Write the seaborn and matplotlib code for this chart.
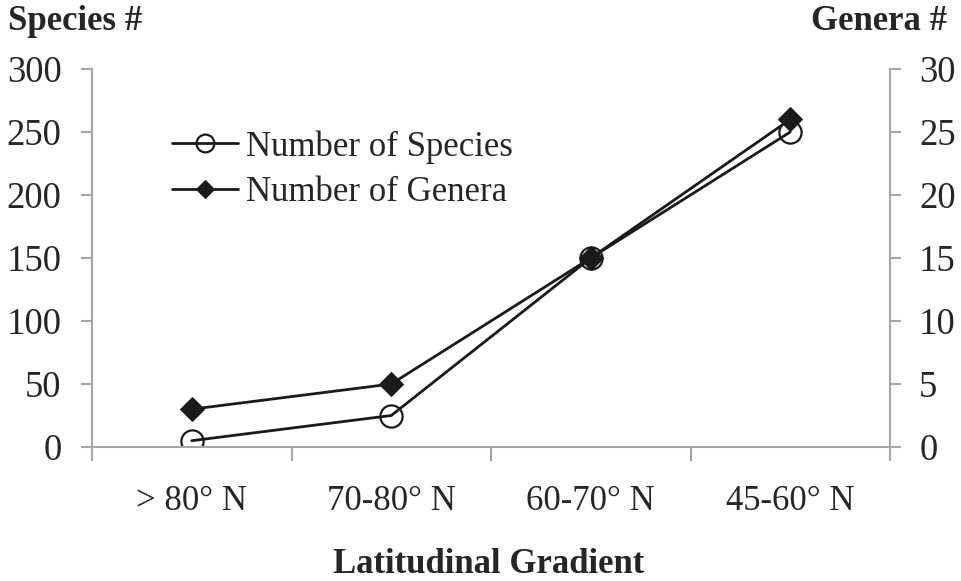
import matplotlib
matplotlib.use("Agg")
import matplotlib.pyplot as plt
import numpy as np
import pandas as pd
import seaborn as sns

# data
categories = ["> 80° N", "70-80° N", "60-70° N", "45-60° N"]
species = [5, 25, 150, 250]
genera = [3, 5, 15, 26]

sns.set_theme(style="white")
plt.rcParams["font.family"] = ["Liberation Serif", "DejaVu Serif"]

df = pd.DataFrame({"pos": np.arange(len(categories)),
                   "species": species, "genera": genera})

fig = plt.figure(figsize=(9.62, 5.81), dpi=100)
ax = fig.add_axes([92 / 962, 1 - 447 / 581, 798 / 962, 378 / 581])
ax2 = ax.twinx()

grey = "#a6a6a6"
fs = 25
yfs = 26.5

sns.lineplot(data=df, x="pos", y="species", ax=ax, color="#1a1a1a",
             linewidth=2.0, marker="o", markersize=16,
             markerfacecolor="none", markeredgecolor="#1a1a1a",
             markeredgewidth=1.6, label="Number of Species", legend=False)
sns.lineplot(data=df, x="pos", y="genera", ax=ax2, color="#1a1a1a",
             linewidth=2.0, marker="D", markersize=12,
             markerfacecolor="#1a1a1a", markeredgecolor="#1a1a1a",
             label="Number of Genera", legend=False)

ax.set_xlim(-0.5, 3.5)
ax.set_ylim(0, 300)
ax2.set_ylim(0, 30)
ax.set_yticks(np.arange(0, 301, 50))
ax2.set_yticks(np.arange(0, 31, 5))

# category boundaries get the tick marks, labels sit at the centers
ax.set_xticks(np.arange(-0.5, 4, 1.0))
ax.set_xticklabels([])
ax.set_xticks(np.arange(len(categories)), minor=True)
ax.set_xticklabels(categories, minor=True, fontsize=fs)
ax.tick_params(axis="x", which="major", direction="out", length=10,
               width=1.5, color=grey, bottom=True)
ax.tick_params(axis="x", which="minor", length=0, pad=27)
ax.tick_params(axis="y", direction="out", length=8, width=1.5,
               color=grey, labelsize=yfs, pad=14, left=True)
ax2.tick_params(axis="y", direction="out", length=8, width=1.5,
                color=grey, labelsize=yfs, pad=13, right=True)

for a in (ax, ax2):
    a.set_xlabel("")
    a.set_ylabel("")
    a.spines["top"].set_visible(False)
    for s in ("left", "right", "bottom"):
        a.spines[s].set_color(grey)
        a.spines[s].set_linewidth(1.5)
ax.spines["right"].set_visible(False)
ax2.spines["left"].set_visible(False)
ax2.spines["bottom"].set_visible(False)

h1, l1 = ax.get_legend_handles_labels()
h2, l2 = ax2.get_legend_handles_labels()
ax2.legend(h1 + h2, l1 + l2, loc="upper left",
           bbox_to_anchor=(0.083, 0.875), frameon=False, fontsize=fs,
           handlelength=1.9, handletextpad=0.22, labelspacing=0.35,
           borderaxespad=0, markerscale=0.8)

fig.text(8 / 962, 1 - 30 / 581, "Species #", fontsize=25,
         fontweight="bold", ha="left", va="baseline")
fig.text(947 / 962, 1 - 30 / 581, "Genera #", fontsize=25,
         fontweight="bold", ha="right", va="baseline")
fig.text(489 / 962, 1 - 573 / 581, "Latitudinal Gradient", fontsize=25,
         fontweight="bold", ha="center", va="baseline")

fig.savefig("out.png", dpi=100)
